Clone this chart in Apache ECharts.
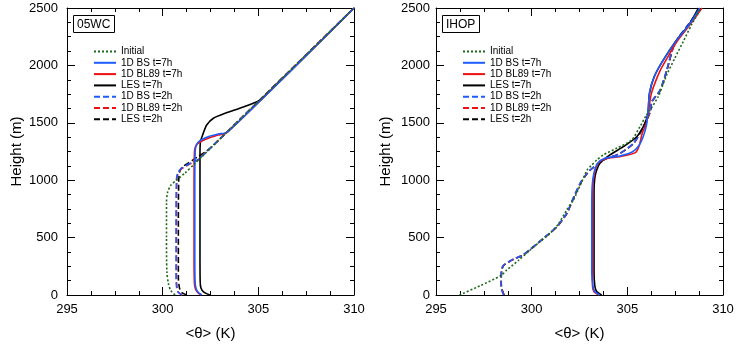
<!DOCTYPE html>
<html>
<head>
<meta charset="utf-8">
<script src="https://cdn.jsdelivr.net/npm/echarts@6/dist/echarts.min.js"></script>
<style>html,body{margin:0;padding:0;background:#fff;}#c{width:737px;height:345px;}</style>
</head>
<body>
<div id="c"></div>
<script>
// ---- Data (theta in K, height in m) ----
const panelTitles = ['05WC', 'IHOP'];
const seriesNames = ['Initial', '1D BS t=7h', '1D BL89 t=7h', 'LES t=7h', '1D BS t=2h', '1D BL89 t=2h', 'LES t=2h'];
const xTicks = [295, 300, 305, 310];
const yTicks = [0, 500, 1000, 1500, 2000, 2500];

// 05WC panel
const wcInitial = [[300.65,0],[300.42,40],[300.3,100],[300.22,200],[300.2,500],[300.2,800],[300.25,890],[300.42,955],[300.72,1000],[301.15,1060],[301.65,1140],[302.02,1200],[310,2500]];
const wcBS7h = [[302.05,0],[301.88,20],[301.76,50],[301.7,100],[301.68,300],[301.68,1000],[301.7,1250],[301.74,1295],[301.85,1330],[302.05,1355],[302.45,1383],[302.9,1402],[303.4,1420],[310,2500]];
const wcBL897h = [[302.0,0],[301.84,20],[301.72,50],[301.66,100],[301.64,300],[301.64,1000],[301.66,1240],[301.7,1285],[301.82,1318],[302.05,1342],[302.45,1370],[302.9,1393],[303.4,1420],[310,2500]];
const wcLES7h = [[302.47,0],[302.15,25],[302.0,60],[301.96,120],[301.95,400],[301.95,1200],[301.97,1330],[302.12,1408],[302.3,1481],[302.65,1540],[303.3,1585],[304.0,1625],[304.7,1668],[305.15,1705],[310,2500]];
const wcBS2h = [[301.0,0],[300.8,25],[300.72,80],[300.7,200],[300.7,600],[300.72,1000],[300.78,1060],[300.95,1100],[301.2,1125],[301.5,1152],[301.9,1185],[310,2500]];
const wcBL892h = [[301.02,0],[300.82,25],[300.74,80],[300.72,200],[300.72,600],[300.74,1000],[300.8,1058],[300.98,1098],[301.22,1122],[301.52,1150],[301.9,1185],[310,2500]];
const wcLES2h = [[301.26,0],[301.0,20],[300.88,60],[300.82,150],[300.82,600],[300.84,1000],[300.9,1080],[301.05,1118],[301.3,1145],[301.8,1200],[302.3,1255],[302.62,1300],[310,2500]];

// IHOP panel
const ihInitial = [[296.23,0],[297.3,80],[298.4,170],[298.7,218],[299.3,300],[299.92,392],[300.4,460],[300.96,537],[301.4,620],[301.83,740],[302.18,828],[302.62,987],[302.9,1090],[303.1,1125],[303.4,1175],[303.74,1220],[304.44,1278],[305.22,1350],[305.66,1466],[306.0,1568],[306.15,1600],[306.61,1727],[307.05,1914],[307.48,2062],[307.92,2207],[308.35,2352],[308.85,2500]];
const ihBS7h = [[303.55,0],[303.3,30],[303.2,80],[303.14,200],[303.14,700],[303.16,943],[303.25,1060],[303.45,1147],[303.83,1191],[304.61,1211],[305.25,1245],[305.6,1300],[305.83,1379],[306.0,1480],[306.05,1553],[306.1,1650],[306.18,1783],[306.44,1914],[306.87,2044],[307.57,2218],[308.27,2364],[308.79,2500]];
const ihBL897h = [[303.5,0],[303.25,30],[303.18,80],[303.18,200],[303.18,700],[303.2,943],[303.28,1060],[303.48,1147],[303.85,1188],[304.6,1205],[305.42,1240],[305.62,1300],[305.78,1408],[306.0,1500],[306.1,1600],[306.25,1750],[306.45,1850],[306.72,1957],[307.0,2040],[307.6,2210],[308.3,2360],[308.9,2500]];
const ihLES7h = [[303.66,0],[303.4,30],[303.3,80],[303.26,200],[303.26,900],[303.3,1020],[303.4,1090],[303.57,1147],[304.09,1220],[304.79,1292],[305.49,1379],[305.92,1495],[306.09,1597],[306.15,1750],[306.4,1900],[306.85,2040],[307.55,2215],[308.25,2362],[308.72,2500]];
const ihBS2h = [[298.53,0],[298.42,50],[298.39,102],[298.41,203],[298.5,255],[298.8,290],[299.15,320],[299.5,345],[299.92,398],[300.61,494],[301.31,595],[301.83,712],[302.09,813],[302.53,973],[302.8,1040],[303.05,1089],[303.74,1176],[304.61,1234],[305.31,1321],[305.83,1466],[306.18,1597],[306.27,1683],[306.7,1783],[307.05,1957],[307.39,2160],[307.7,2250],[308.2,2360],[308.8,2500]];
const ihBL892h = [[298.55,0],[298.44,50],[298.4,102],[298.42,203],[298.51,255],[298.81,290],[299.16,320],[299.51,345],[299.93,398],[300.62,494],[301.32,595],[301.84,712],[302.1,813],[302.54,973],[302.81,1040],[303.06,1089],[303.75,1176],[304.62,1234],[305.32,1321],[305.84,1466],[306.19,1597],[306.28,1683],[306.71,1783],[307.06,1957],[307.4,2160],[307.72,2250],[308.22,2360],[308.85,2500]];
const ihLES2h = [[298.56,0],[298.45,50],[298.41,102],[298.43,203],[298.52,255],[298.82,290],[299.17,320],[299.52,345],[299.94,398],[300.63,494],[301.33,595],[301.85,712],[302.11,813],[302.55,973],[302.82,1040],[303.07,1089],[303.76,1176],[304.63,1234],[305.33,1321],[305.85,1466],[306.2,1597],[306.29,1683],[306.72,1783],[307.07,1957],[307.41,2160],[307.73,2250],[308.23,2360],[308.82,2500]];

const panelData = [
  [wcInitial, wcBS7h, wcBL897h, wcLES7h, wcBS2h, wcBL892h, wcLES2h],
  [ihInitial, ihBS7h, ihBL897h, ihLES7h, ihBS2h, ihBL892h, ihLES2h]
];

// ---- Styles ----
const FONT = 'Liberation Sans';
const styles = [
  {color: '#1b6b1b', type: [2, 2]},
  {color: '#1f5cff', type: 'solid'},
  {color: '#ee1111', type: 'solid'},
  {color: '#000000', type: 'solid'},
  {color: '#1f5cff', type: [6, 3]},
  {color: '#ee1111', type: [6, 3]},
  {color: '#000000', type: [6, 3]}
];
const drawOrder = [6, 5, 4, 3, 2, 1, 0];

const gridLefts = [67, 436];
const grids = gridLefts.map(l => ({left: l, top: 8, width: 287, height: 287, show: false, containLabel: false, outerBoundsMode: 'none'}));

function xAx(g, pos) {
  const main = pos === 'bottom';
  return {
    type: 'value', gridIndex: g, position: pos, min: xTicks[0], max: xTicks[xTicks.length - 1], interval: 5,
    axisLine: {show: true, onZero: false, lineStyle: {color: '#000'}},
    axisTick: {show: true, inside: true, length: 8, lineStyle: {color: '#000'}},
    minorTick: {show: true, splitNumber: 4, length: 4, lineStyle: {color: '#000'}},
    axisLabel: {show: main, color: '#000', fontSize: 13, fontFamily: FONT, margin: 8},
    splitLine: {show: false},
    name: main ? '<θ> (K)' : '', nameLocation: 'middle', nameGap: 31,
    nameTextStyle: {color: '#000', fontSize: 15, fontFamily: FONT}
  };
}
function yAx(g, pos) {
  const main = pos === 'left';
  return {
    type: 'value', gridIndex: g, position: pos, min: yTicks[0], max: yTicks[yTicks.length - 1], interval: 500,
    axisLine: {show: true, onZero: false, lineStyle: {color: '#000'}},
    axisTick: {show: true, inside: true, length: 8, lineStyle: {color: '#000'}},
    minorTick: {show: true, splitNumber: 4, length: 4, lineStyle: {color: '#000'}},
    axisLabel: {show: main, color: '#000', fontSize: 13, fontFamily: FONT, margin: g === 0 ? 9 : 6,
                formatter: v => String(v)},
    splitLine: {show: false},
    name: main ? 'Height (m)' : '', nameLocation: 'middle', nameGap: 43,
    nameTextStyle: {color: '#000', fontSize: 15, fontFamily: FONT}
  };
}

const xAxes = [xAx(0, 'bottom'), xAx(0, 'top'), xAx(1, 'bottom'), xAx(1, 'top')];
const yAxes = [yAx(0, 'left'), yAx(0, 'right'), yAx(1, 'left'), yAx(1, 'right')];

const series = [];
for (let p = 0; p < 2; p++) {
  for (const i of drawOrder) {
    series.push({
      type: 'line', name: seriesNames[i], xAxisIndex: p * 2, yAxisIndex: p * 2,
      data: panelData[p][i], showSymbol: false, symbol: 'none', smooth: 0.25,
      lineStyle: {color: styles[i].color, type: styles[i].type, width: 1.6},
      itemStyle: {color: styles[i].color}
    });
  }
}

const legends = gridLefts.map(l => ({
  data: seriesNames, orient: 'vertical', left: l + 21, top: 41.5,
  itemWidth: 22, itemHeight: 10, itemGap: 1.3, selectedMode: false,
  itemStyle: {opacity: 0},
  textStyle: {fontSize: 10, fontFamily: FONT, color: '#000', lineHeight: 10}
}));

const titles = panelTitles.map((t, i) => ({
  text: t, left: gridLefts[i] + 6, top: 15, borderColor: '#000', borderWidth: 1,
  padding: [3, 4, 2, 4],
  textStyle: {fontSize: 12, fontWeight: 'normal', fontFamily: FONT, color: '#000', lineHeight: 13}
}));

const chart = echarts.init(document.getElementById('c'), null, {renderer: 'canvas'});
chart.setOption({
  animation: false, backgroundColor: '#fff',
  title: titles, legend: legends, grid: grids,
  xAxis: xAxes, yAxis: yAxes, series: series
});
</script>
</body>
</html>
